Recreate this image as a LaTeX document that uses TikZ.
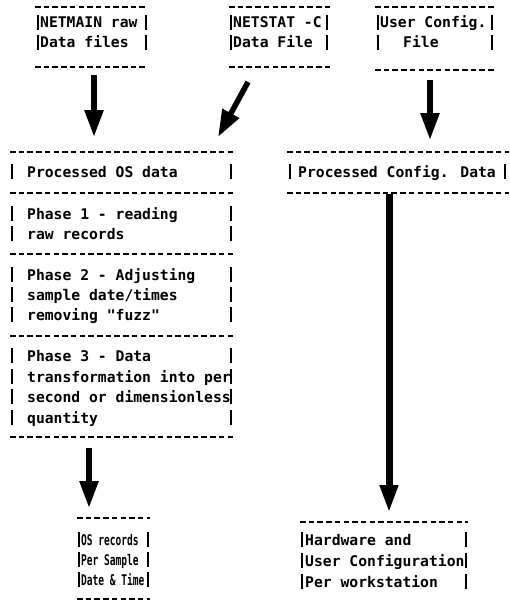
\documentclass[tikz,border=0pt]{standalone}
\usepackage{fontspec}
\newfontfamily\typefont{DejaVu Sans Mono}
\usetikzlibrary{arrows.meta}
\tikzset{
  dashline/.style={line width=1.2pt, dash pattern=on 5.5pt off 3.2pt},
  barline/.style={line width=1.3pt},
  txt/.style={anchor=base west, inner sep=0pt, font=\typefont\bfseries\fontsize{14.7}{17}\selectfont},
  frame/.style={inner sep=0pt, outer sep=0pt, draw=none, minimum width=#1},
  bigarrow/.style={line width=5.5pt, -{Triangle[width=18pt,length=27pt]}},
  thickarrow/.style={line width=7pt, -{Triangle[width=17pt,length=28pt]}},
}
\begin{document}
\begin{tikzpicture}[x=1pt,y=-1pt]
\fill[white] (0,0) rectangle (509,602);
\useasboundingbox (0,0) rectangle (509,602);

% ---------- box frames ----------
\node[frame=113pt, minimum height=60pt] (netmain) at (91.5,37) {};
\node[frame=101pt, minimum height=60pt] (netstat) at (279.5,37) {};
\node[frame=121pt, minimum height=63pt] (userconf) at (435.5,38.5) {};
\node[frame=225pt, minimum height=41pt] (sec0) at (122.5,172.5) {};
\node[frame=225pt, minimum height=61pt] (sec1) at (122.5,223.5) {};
\node[frame=225pt, minimum height=82pt] (sec2) at (122.5,295) {};
\node[frame=225pt, minimum height=101pt] (sec3) at (122.5,386.5) {};
\node[frame=222pt, minimum height=41pt] (procconf) at (398,172.5) {};
\node[frame=73pt, minimum height=81pt] (osrec) at (113.5,558.5) {};
\node[frame=168pt, minimum height=78pt] (hardware) at (384,561) {};

% ---------- dashed rules ----------
\foreach \b in {netmain,netstat,userconf,sec3,osrec}{
  \draw[dashline] (\b.north west) -- (\b.north east);
  \draw[dashline] (\b.south west) -- (\b.south east);
}
\foreach \b in {sec0,sec1,sec2,procconf,hardware}{
  \draw[dashline] (\b.north west) -- (\b.north east);
}
\draw[dashline] (procconf.south west) -- (procconf.south east);

% ---------- vertical bars ('|') ----------
\foreach \c in {23,43}{
  \draw[barline] (38,\c-8) -- (38,\c+7);
  \draw[barline] (146,\c-8) -- (146,\c+7);
  \draw[barline] (231,\c-8) -- (231,\c+7);
  \draw[barline] (327,\c-8) -- (327,\c+7);
  \draw[barline] (378,\c-8) -- (378,\c+7);
  \draw[barline] (492,\c-8) -- (492,\c+7);
}
\foreach \c in {172,214,234,275,295,315,356,377,397,418}{
  \draw[barline] (12,\c-8) -- (12,\c+7);
  \draw[barline] (231,\c-8) -- (231,\c+7);
}
\draw[barline] (290,164) -- (290,179);
\draw[barline] (505,164) -- (505,179);
\foreach \c in {540,560,580}{
  \draw[barline] (79,\c-8) -- (79,\c+7);
  \draw[barline] (148,\c-8) -- (148,\c+7);
}
\foreach \c in {540,561,582}{
  \draw[barline] (302,\c-8) -- (302,\c+7);
  \draw[barline] (466,\c-8) -- (466,\c+7);
}

% ---------- texts ----------
\node[txt] (t1a) at (40,28) {NETMAIN raw};
\node[txt] (t1b) at (40,48) {Data files};
\node[txt] (t2a) at (233,28) {NETSTAT -C};
\node[txt] (t2b) at (233,48) {Data File};
\node[txt] (t3a) at (380,28) {User Config.};
\node[txt] (t3b) at (403,48) {File};

\node[txt] (p0) at (27,177) {Processed OS data};
\node[txt] (p1a) at (27,219) {Phase 1 - reading};
\node[txt] (p1b) at (27,239) {raw records};
\node[txt] (p2a) at (27,280) {Phase 2 - Adjusting};
\node[txt] (p2b) at (27,300) {sample date/times};
\node[txt] (p2c) at (27,320) {removing "fuzz"};
\node[txt] (p3a) at (27,361) {Phase 3 - Data};
\node[txt] (p3b) at (27,382) {transformation into per};
\node[txt] (p3c) at (27,402) {second or dimensionless};
\node[txt] (p3d) at (27,423) {quantity};

\node[txt] (pc) at (298,177) {Processed Config. Data};

\node[txt] (o1) at (81,545) {\scalebox{0.65}[1]{OS records}};
\node[txt] (o2) at (81,565) {\scalebox{0.65}[1]{Per Sample}};
\node[txt] (o3) at (81,585) {\scalebox{0.65}[1]{Date \& Time}};

\node[txt] (h1) at (305,545) {Hardware and};
\node[txt] (h2) at (305,566) {User Configuration};
\node[txt] (h3) at (305,587) {Per workstation};

% ---------- arrows ----------
\coordinate (a1e) at (94,137);
\coordinate (a2e) at (218,137);
\coordinate (a3e) at (430,140);
\draw[bigarrow] ([shift={(2.5,8)}]netmain.south) -- (a1e);
\draw[bigarrow] ([shift={(-31.5,15)}]netstat.south) -- (a2e);
\draw[bigarrow] ([shift={(-5.5,10)}]userconf.south) -- (a3e);
\draw[bigarrow] ([shift={(-33.5,11)}]sec3.south) -- ([shift={(-24.5,-10)}]osrec.north);
\draw[thickarrow] ([shift={(-9,1)}]procconf.south) -- ([shift={(5,-9)}]hardware.north);
\end{tikzpicture}
\end{document}
